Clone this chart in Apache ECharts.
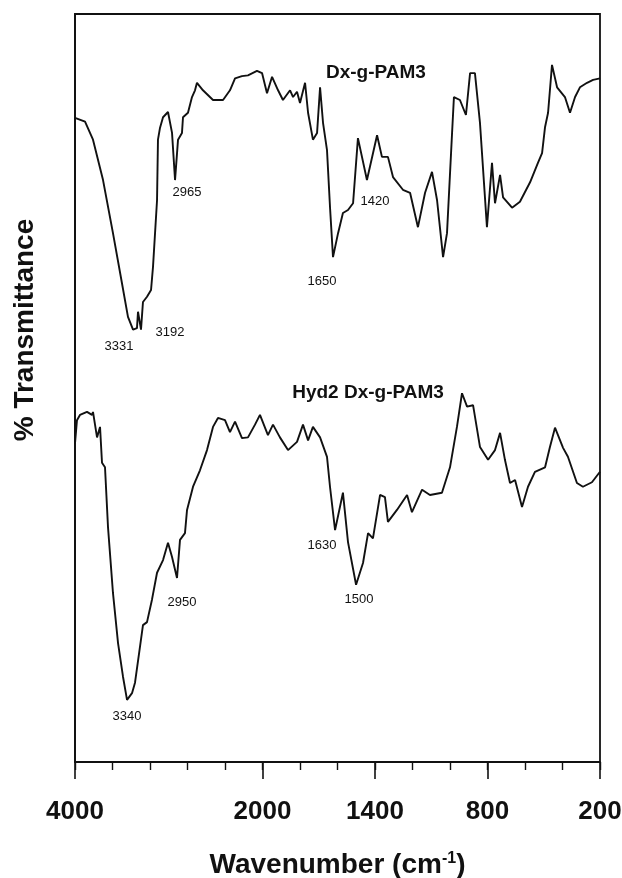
<!DOCTYPE html>
<html>
<head>
<meta charset="utf-8">
<script src="https://cdn.jsdelivr.net/npm/echarts@6/dist/echarts.min.js"></script>
<style>
html,body{margin:0;padding:0;background:#fff;}
#chart{width:622px;height:878px;}
</style>
</head>
<body>
<div id="chart"></div>
<script>
// Wavenumbers (cm-1) of the tick labels
var tickLabels = [4000, 2000, 1400, 800, 200];
// Minor tick wavenumbers
var minorTicks = [4000, 3600, 3200, 2800, 2400, 2000, 1800, 1600, 1400, 1200, 1000, 800, 600, 400, 200];

// Dx-g-PAM3 spectrum: wavenumber, %T (offset, arbitrary units)
var dxWave = [4000,3893,3808,3701,3595,3499,3435,3381,3339,3328,3296,3275,3232,3189,3168,3125,3115,3093,3061,3008,2965,2933,2901,2859,2848,2795,2752,2720,2699,2635,2528,2421,2347,2293,2219,2155,2059,2005,1976,1949,1917,1891,1853,1837,1816,1800,1773,1757,1731,1709,1693,1677,1656,1640,1624,1597,1571,1544,1517,1491,1443,1389,1363,1331,1304,1251,1213,1171,1133,1096,1069,1037,1016,989,979,947,915,893,867,840,803,776,760,733,717,669,627,573,531,509,493,477,456,429,387,360,333,307,269,237,200];
var dxT = [86.1,85.6,83.2,77.8,70.7,64.0,59.5,57.8,58.0,60.2,57.8,61.5,62.2,63.1,66.2,75.1,83.2,84.8,86.2,86.9,84.1,77.8,83.2,84.1,86.2,86.8,88.9,89.8,90.8,89.8,88.5,88.5,89.8,91.4,91.7,91.8,92.4,92.1,89.4,91.6,89.8,88.5,89.8,88.9,89.6,88.1,90.8,86.8,83.2,84.1,90.2,85.4,81.8,74.2,67.5,70.7,73.4,73.8,74.7,83.4,77.8,83.8,80.9,80.9,78.2,76.5,76.1,71.5,76.1,78.9,75.1,67.5,70.7,84.1,88.9,88.5,86.5,92.1,92.1,85.4,71.5,80.1,74.7,78.5,75.5,74.1,74.9,77.5,80.1,81.4,84.9,86.8,93.2,90.2,88.9,86.8,88.9,90.2,90.8,91.2,91.4];

// Hyd2 Dx-g-PAM3 spectrum
var hydWave = [4000,3979,3947,3872,3819,3808,3765,3733,3712,3680,3648,3595,3541,3488,3445,3392,3360,3307,3275,3232,3179,3125,3061,3008,2965,2912,2880,2827,2805,2741,2667,2592,2528,2475,2400,2347,2293,2219,2155,2080,2027,1971,1944,1907,1864,1816,1784,1757,1731,1693,1656,1640,1613,1571,1544,1501,1464,1437,1411,1373,1347,1331,1283,1229,1203,1149,1107,1043,1000,963,936,909,877,840,797,760,733,707,680,653,616,584,547,493,467,440,397,371,323,291,243,200];
var hydT = [42.6,45.7,46.4,46.8,46.4,46.8,43.4,44.8,40.0,39.4,31.4,22.6,15.9,11.4,8.3,9.2,10.6,15.4,18.3,18.7,21.7,25.3,27.0,29.3,27.4,24.6,29.7,30.6,33.7,36.8,39.0,41.7,44.8,46.0,45.7,44.1,45.5,43.3,43.4,45.1,46.4,43.7,45.1,43.4,41.7,42.8,45.1,43.0,44.8,43.4,40.8,36.8,31.0,36.0,29.4,23.7,26.6,30.6,29.9,35.7,35.4,32.1,33.7,35.7,33.4,36.4,35.7,36.0,39.4,44.8,49.3,47.5,47.7,42.1,40.4,41.7,44.0,40.4,37.3,37.7,34.1,36.8,38.8,39.4,42.1,44.7,42.0,40.8,37.3,36.8,37.4,38.8];

// Annotations: text, wavenumber and %T where the text sits
var annText = ['Dx-g-PAM3','3331','3192','2965','1650','1420','Hyd2 Dx-g-PAM3','2950','3340','1630','1500'];
var annWave = [1395,3531,2987,2805,1683,1400,1437,2859,3445,1683,1485];
var annT    = [92.2,55.6,57.4,76.1,64.2,75.0,49.3,21.3,6.1,29.0,21.7];
var annBig  = [true,false,false,false,false,false,true,false,false,false,false];

// Piecewise wavenumber scale: 400 cm-1 per division above 2000, 200 below
function toU(w){ return w >= 2000 ? (4000 - w) / 400 : 5 + (2000 - w) / 200; }
function fromU(u){ return u <= 5 ? 4000 - 400 * u : 2000 - 200 * (u - 5); }

function pairs(ws, ts){ return ws.map(function(w,i){ return [toU(w), ts[i]]; }); }

var FONT = '"Liberation Sans", Arial, sans-serif';
var INK = '#111';

var annData = annText.map(function(t,i){
  return {
    value:[toU(annWave[i]), annT[i]],
    name:t,
    label:{
      fontSize: annBig[i] ? 19 : 13,
      fontWeight: annBig[i] ? 'bold' : 'normal'
    }
  };
});

var chart = echarts.init(document.getElementById('chart'), null, {renderer:'canvas'});
chart.setOption({
  animation:false,
  backgroundColor:'#fff',
  grid:{left:75, right:22, top:14, bottom:116, show:true, borderColor:INK, borderWidth:1.8,
    containLabel:false, outerBoundsMode:'none'},
  xAxis:[{
    type:'value', min:0, max:14, interval:1, position:'bottom',
    axisLine:{show:true, lineStyle:{color:INK, width:1.8}},
    axisTick:{show:true, length:17, lineStyle:{color:INK, width:1.6},
      customValues: tickLabels.map(toU)},
    axisLabel:{show:true, margin:37, fontFamily:FONT, fontSize:26, fontWeight:'bold', color:INK,
      customValues: tickLabels.map(toU),
      formatter:function(v){ return String(Math.round(fromU(v))); }},
    splitLine:{show:false},
    name:'Wavenumber (cm{sup|-1})',
    nameLocation:'middle', nameGap:89,
    nameTextStyle:{fontFamily:FONT, fontSize:28, fontWeight:'bold', color:INK,
      rich:{sup:{fontFamily:FONT, fontSize:16, fontWeight:'bold', color:INK, verticalAlign:'top', padding:[0,0,12,0]}}}
  },{
    type:'value', min:0, max:14, interval:1, position:'bottom',
    axisLine:{show:false},
    axisTick:{show:true, length:8, lineStyle:{color:INK, width:1.4},
      customValues: minorTicks.map(toU)},
    axisLabel:{show:false},
    splitLine:{show:false}
  }],
  yAxis:{
    type:'value', min:0, max:100,
    axisLine:{show:true, lineStyle:{color:INK, width:1.8}},
    axisTick:{show:false}, axisLabel:{show:false}, splitLine:{show:false}
  },
  graphic:[{
    type:'text', x:25, y:330, rotation:Math.PI/2,
    style:{text:'% Transmittance', font:'bold 28px ' + FONT, fill:INK, align:'center', verticalAlign:'middle'}
  }],
  series:[{
    name:'Dx-g-PAM3', type:'line', xAxisIndex:0, data:pairs(dxWave, dxT),
    showSymbol:false, symbol:'none', lineStyle:{color:INK, width:1.9}, z:3
  },{
    name:'Hyd2 Dx-g-PAM3', type:'line', xAxisIndex:0, data:pairs(hydWave, hydT),
    showSymbol:false, symbol:'none', lineStyle:{color:INK, width:1.9}, z:3
  },{
    name:'labels', type:'scatter', xAxisIndex:0, data:annData, symbolSize:0, silent:true,
    itemStyle:{opacity:1, color:INK},
    label:{show:true, position:'inside', formatter:'{b}', fontFamily:FONT, color:'#111',
      opacity:1, textBorderWidth:0}, z:4
  }]
});
</script>
</body>
</html>
